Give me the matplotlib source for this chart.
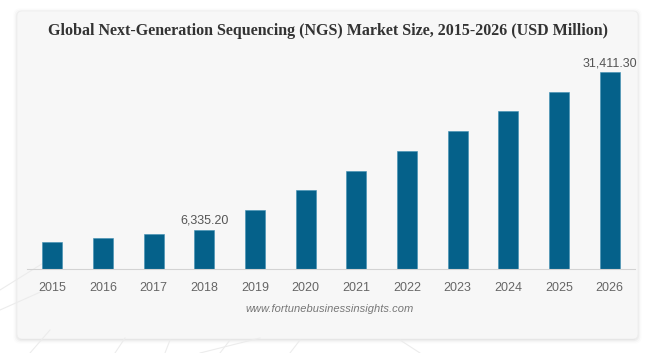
import matplotlib
matplotlib.use("Agg")
import matplotlib.pyplot as plt
from matplotlib.patches import FancyBboxPatch
from matplotlib.lines import Line2D

years = ["2015", "2016", "2017", "2018", "2019", "2020", "2021", "2022", "2023", "2024", "2025", "2026"]
values = [4400, 5040, 5680, 6335.2, 9460, 12600, 15730, 18870, 22010, 25200, 28280, 31411.3]
labeled = {3: "6,335.20", 11: "31,411.30"}
title = "Global Next-Generation Sequencing (NGS) Market Size, 2015-2026 (USD Million)"
source = "www.fortunebusinessinsights.com"

W, H = 650, 353
fig = plt.figure(figsize=(W / 100, H / 100), dpi=100)
fig.patch.set_facecolor("white")

# background decoration + card
bg = fig.add_axes([0, 0, 1, 1])
bg.set_xlim(0, W)
bg.set_ylim(H, 0)
bg.axis("off")
for (x0, y0, x1, y1) in [(0, 290, 45, 262), (0, 310, 45, 290), (30, 353, 50, 330),
                         (115, 353, 125, 338), (165, 353, 170, 340), (200, 353, 260, 338),
                         (290, 353, 300, 340), (400, 340, 420, 353), (220, 353, 230, 340)]:
    bg.add_line(Line2D([x0, x1], [y0, y1], color="#ececec", lw=0.8))
for i, a in enumerate([0.05, 0.035, 0.02, 0.01]):
    d = 1 + i * 1.2
    bg.add_patch(FancyBboxPatch((17 - d + 1, 11 - d + 2), 621 + 2 * d - 2, 328 + 2 * d - 2,
                                boxstyle="round,pad=0,rounding_size=6",
                                fc=(0, 0, 0, a), ec="none"))
bg.add_patch(FancyBboxPatch((17, 11), 621, 328, boxstyle="round,pad=0,rounding_size=5",
                            fc="#f7f7f7", ec="#eeeeee", lw=0.6))

# bar chart
left, right = 27, 635
top, bottom = 60, 269.3
ax = fig.add_axes([left / W, 1 - bottom / H, (right - left) / W, (bottom - top) / H])
ax.set_facecolor("none")
x = list(range(len(years)))
ax.bar(x, values, width=0.4, color="#05618a", edgecolor="#3f8fb3", linewidth=0.4)
ax.set_xlim(-0.5, len(years) - 0.5)
ax.set_ylim(0, (bottom - top) * 159.5)
ax.set_xticks(x)
ax.set_xticklabels(years, fontsize=9, color="#666666", family="Liberation Sans")
ax.tick_params(axis="x", length=0, pad=9.5)
ax.set_yticks([])
for s in ["top", "left", "right"]:
    ax.spines[s].set_visible(False)
ax.spines["bottom"].set_color("#d3d3d3")
ax.spines["bottom"].set_linewidth(0.8)
for i, lab in labeled.items():
    ax.annotate(lab, (x[i], values[i]), xytext=(0, 2), textcoords="offset points",
                ha="center", va="bottom", fontsize=9, color="#555555", family="Liberation Sans")

fig.text(328 / W, 1 - 31 / H, title, ha="center", va="center", fontsize=11.5,
         fontweight="bold", color="#333333", family="Liberation Serif")
fig.text(330 / W, 1 - 309.5 / H, source, ha="center", va="center", fontsize=8,
         style="italic", color="#777777", family="Liberation Sans")

fig.savefig("out.png", dpi=100, facecolor="white")
